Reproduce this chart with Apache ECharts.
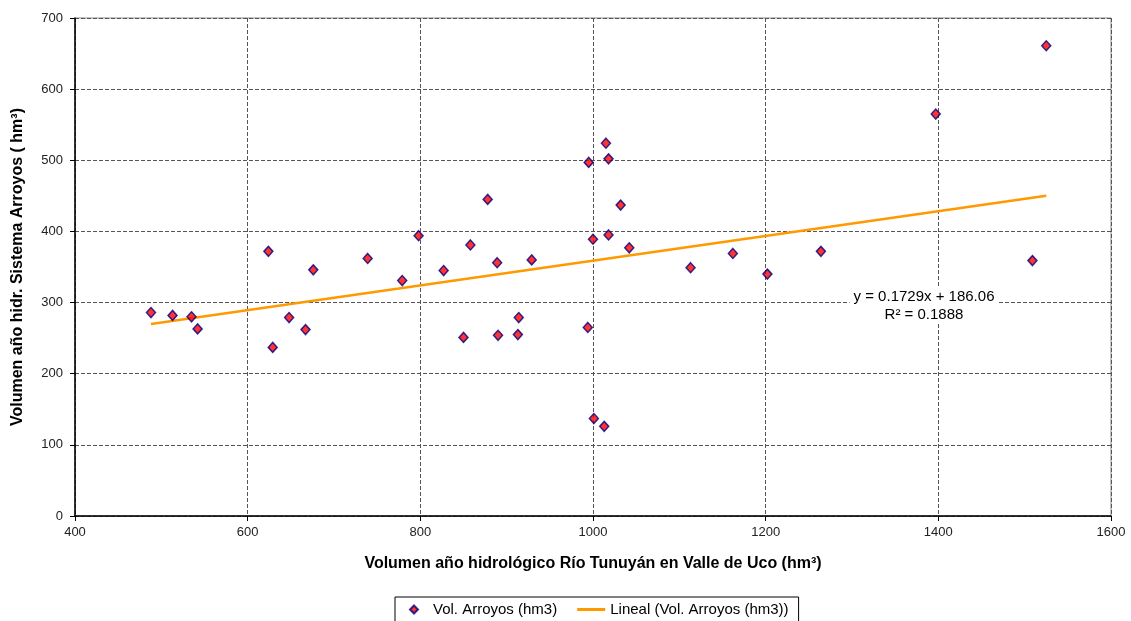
<!DOCTYPE html>
<html>
<head>
<meta charset="utf-8">
<script src="https://cdn.jsdelivr.net/npm/echarts@6/dist/echarts.min.js"></script>
<style>
  html, body { margin: 0; padding: 0; background: #fff; }
  #chart { width: 1131px; height: 621px; }
</style>
</head>
<body>
<div id="chart"></div>
<script>
// Volumen Río Tunuyán (x) vs Vol. Arroyos (y), hm3
const volTunuyan = [488, 513, 535, 542, 624, 629, 648, 667, 676, 739, 779, 798, 827, 850, 858, 878, 889, 890,
    913, 914, 929, 994, 995, 1000, 1001, 1013, 1015, 1018, 1018, 1032, 1042, 1113, 1162, 1202, 1264, 1397, 1509, 1525]
const volArroyos = [286, 282, 280, 263, 372, 237, 279, 262, 346, 362, 331, 394, 345, 251, 381, 445, 356, 254,
    255, 279, 360, 265, 497, 389, 137, 126, 524, 502, 395, 437, 377, 349, 369, 340, 372, 565, 359, 661]
// linea de tendencia (extremos)
const trendX = [488, 1525]
const trendY = [270, 450]
const xTicks = [400, 1600, 200]
const yTicks = [0, 700, 100]
const seriesName = 'Vol. Arroyos (hm3)'
const trendName = 'Lineal (Vol. Arroyos (hm3))'
const eqText = 'y = 0.1729x + 186.06\nR² = 0.1888'

const font = "'Liberation Sans', Arial, sans-serif"
const points = volTunuyan.map((x, i) => [x, volArroyos[i]])
const trend = trendX.map((x, i) => [x, trendY[i]])

const option = {
    backgroundColor: '#fff',
    animation: false,
    textStyle: { fontFamily: font },
    grid: {
        left: 75,
        right: 20,
        top: 18,
        bottom: 105,
        show: true,
        borderColor: '#8a8a8a',
        borderWidth: 1
    },
    legend: {
        left: 395,
        top: 597,
        padding: [5, 10, 6, 14],
        borderColor: '#000',
        borderWidth: 1,
        itemGap: 20,
        itemWidth: 28,
        itemHeight: 8,
        selectedMode: false,
        textStyle: { fontFamily: font, fontSize: 15, color: '#000' },
        data: [
            { name: seriesName, icon: 'path://M5,0 L10,5 L5,10 L0,5 Z' },
            { name: trendName, icon: 'path://M0,0 H28 V3 H0 Z' }
        ]
    },
    xAxis: {
        type: 'value',
        min: xTicks[0],
        max: xTicks[1],
        interval: xTicks[2],
        name: 'Volumen año hidrológico Río Tunuyán en Valle de Uco (hm³)',
        nameLocation: 'middle',
        nameGap: 40,
        nameTextStyle: { fontFamily: font, fontSize: 16, fontWeight: 'bold', color: '#000' },
        axisLine: { onZero: false, lineStyle: { color: '#000', width: 1.5 } },
        axisTick: { show: true, length: 5, lineStyle: { color: '#000' } },
        axisLabel: { fontSize: 13, color: '#222', margin: 10, formatter: (v) => String(v) },
        splitLine: { lineStyle: { color: '#555', type: [4, 2], width: 1 } }
    },
    yAxis: {
        type: 'value',
        min: yTicks[0],
        max: yTicks[1],
        interval: yTicks[2],
        name: 'Volumen año hidr. Sistema Arroyos ( hm³)',
        nameLocation: 'middle',
        nameGap: 49,
        nameTextStyle: { fontFamily: font, fontSize: 16, fontWeight: 'bold', color: '#000' },
        axisLine: { onZero: false, lineStyle: { color: '#000', width: 1.5 } },
        axisTick: { show: true, length: 5, lineStyle: { color: '#000' } },
        axisLabel: { fontSize: 13, color: '#222', margin: 12, formatter: (v) => String(v) },
        splitLine: { lineStyle: { color: '#555', type: [4, 2], width: 1 } }
    },
    series: [
        {
            name: seriesName,
            type: 'scatter',
            data: points,
            symbol: 'diamond',
            symbolSize: [9, 10],
            itemStyle: { color: '#ff0000', borderColor: '#000080', borderWidth: 1.5 },
            z: 3
        },
        {
            name: trendName,
            type: 'line',
            data: trend,
            showSymbol: false,
            symbol: 'none',
            itemStyle: { color: '#ff9900' },
            lineStyle: { color: '#ff9900', width: 2.5 },
            z: 2
        }
    ],
    graphic: [{
        type: 'text',
        x: 924,
        y: 288,
        z: 10,
        style: {
            text: eqText,
            fontFamily: font,
            fontSize: 15,
            fill: '#000',
            align: 'center',
            verticalAlign: 'top',
            lineHeight: 18,
            backgroundColor: '#fff',
            padding: [0, 4]
        }
    }]
}

try {
    const chart = echarts.init(document.getElementById('chart'))
    chart.setOption(option, true)
} catch (e) {}
</script>
</body>
</html>
